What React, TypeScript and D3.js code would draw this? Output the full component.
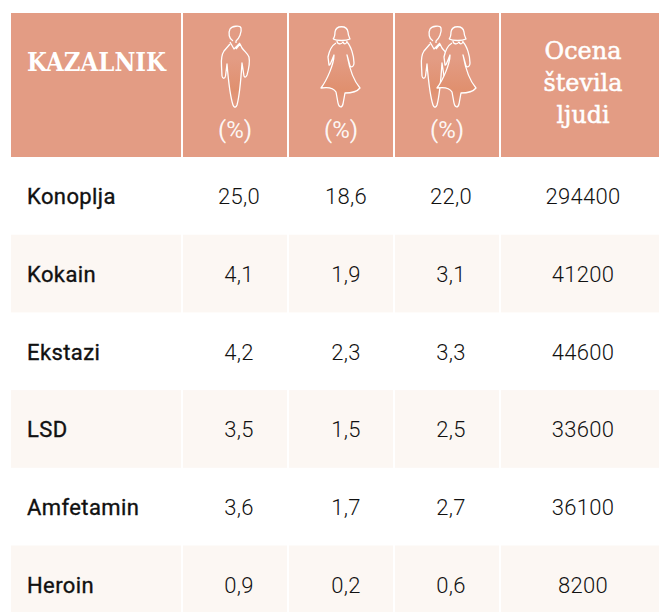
import * as d3 from 'd3'

const indicators = ['Konoplja', 'Kokain', 'Ekstazi', 'LSD', 'Amfetamin', 'Heroin']
const men = ['25,0', '4,1', '4,2', '3,5', '3,6', '0,9']
const women = ['18,6', '1,9', '2,3', '1,5', '1,7', '0,2']
const total = ['22,0', '3,1', '3,3', '2,5', '2,7', '0,6']
const people = ['294400', '41200', '44600', '33600', '36100', '8200']
const estimateLines = ['Ocena', 'števila', 'ljudi']

const W = 659
const H = 612
const HEAD = '#e39c84'
const STRIPE = '#fcf7f3'
const BODY_FONT = 'Roboto, "Noto Sans", sans-serif'
const SLAB = '"DejaVu Serif", "Liberation Serif", serif'

// column edges
const colX = [11, 182, 288, 394, 500, 659]
const rowY = d3.scaleLinear().domain([0, 6]).range([157, 157 + 6 * 77.7])

// numbers sit slightly right of the column middle in the original
const valueX = [239, 346, 451, 583]
const percentX = [235, 341, 447]
const estimateWidth = [77, 79, 53]

const manPath = 'M-2 -25 C-6 -27 -7 -33 -5 -37 C-3 -40 5 -41 6 -38 C7 -34 4 -27 1 -25 L1 -23 M-5 -24 L-1 -17 L5 -23 M-5 -22 L-11 -15 C-13 -12 -14 -7 -13.5 0 L-13 10 C-12.5 13 -10 13 -9.5 10 L-8 -2 C-7 10 -5 30 -2 39 C-1 42 1 42 2 39 C5 28 6 12 7 -3 L9 10 C10 12 11 11 12 9 C14 2 15 -4 14 -9 C13 -12 10 -14 7 -18 L5 -22 L1 -17'
const womanPath = 'M-8 -27 C-6 -29 -6 -31 -6 -34 C-5 -41 6 -41 7 -34 C7 -31 8 -29 9 -27 C5 -25 -4 -25 -8 -27 M-4 -25 C-4 -22 0 -21 2 -24 C3 -21 6 -22 6 -25 M-5 -23 C-10 -20 -12 -14 -13 -9 L-12 -1 C-11 0 -9 -6 -7 -11 C-7 -2 -14 14 -20 22 C-14 21 -8 21 -5 26 L-3 37 C-2 42 1 42 2 38 L4 27 C8 27 15 27 19 22 C12 14 8 0 6 -11 L9 0 C11 2 13 0 13 -3 C13 -10 10 -20 6 -24'

export default function App() {
  const columns = [men, women, total, people]

  return (
    <svg width={W} height={H} style={{ position: 'absolute', left: 0, top: 0, background: '#fff' }}>
      <defs>
        <linearGradient id="figureShade" x1="0" y1="0" x2="0" y2="1">
          <stop offset="0.4" stopColor={HEAD} />
          <stop offset="0.78" stopColor="#e0906f" />
          <stop offset="1" stopColor={HEAD} />
        </linearGradient>
      </defs>
      {d3.range(5).map(i => (
        <rect key={i} x={colX[i] + (i ? 1 : 0)} y={13} height={144}
          width={colX[i + 1] - colX[i] - (i === 4 ? 0 : i ? 2 : 1)} fill={HEAD} />
      ))}
      <text x={27} y={71} fontFamily={SLAB} fontWeight={700} fontSize={26} fill="#fff"
        textLength={139} lengthAdjust="spacingAndGlyphs">KAZALNIK</text>

      <g fill="url(#figureShade)" stroke="#fff" strokeWidth={1.3} strokeLinejoin="round">
        <path d={manPath} transform="translate(235,66)" />
        <path d={womanPath} transform="translate(341,66)" />
        <path d={manPath} transform="translate(435,66)" />
        <path d={womanPath} transform="translate(457,66)" />
      </g>
      {percentX.map(x => (
        <text key={x} x={x} y={138} textAnchor="middle" fontFamily={BODY_FONT} fontWeight={400} fontSize={24} fill="#fff" fillOpacity={0.92}>(%)</text>
      ))}
      {estimateLines.map((l, i) => (
        <text key={l} x={583} y={59 + i * 32} textAnchor="middle" fontFamily={SLAB} fontWeight={400}
          fontSize={24} fill="#fff" stroke="#fff" strokeWidth={0.5} textLength={estimateWidth[i]} lengthAdjust="spacingAndGlyphs">{l}</text>
      ))}

      {indicators.map((name, r) => {
        const y0 = rowY(r)
        const y1 = rowY(r + 1)
        const mid = (y0 + y1) / 2
        return (
          <g key={name}>
            {r % 2 === 1 && d3.range(5).map(i => (
              <rect key={i} x={colX[i] + (i ? 1 : 0)} y={y0} height={y1 - y0}
                width={colX[i + 1] - colX[i] - (i === 4 ? 0 : i ? 2 : 1)} fill={STRIPE} />
            ))}
            <text x={27} y={mid + 8.5} fontFamily={BODY_FONT} fontWeight={400} fontSize={22} fill="#111"
              stroke="#111" strokeWidth={0.35} letterSpacing={0.4}>{name}</text>
            {columns.map((col, c) => (
              <text key={c} x={valueX[c]} y={mid + 8.5} textAnchor="middle" fontFamily={BODY_FONT}
                fontWeight={300} fontSize={22} fill="#111" letterSpacing={0.3}>{col[r]}</text>
            ))}
          </g>
        )
      })}
    </svg>
  )
}
